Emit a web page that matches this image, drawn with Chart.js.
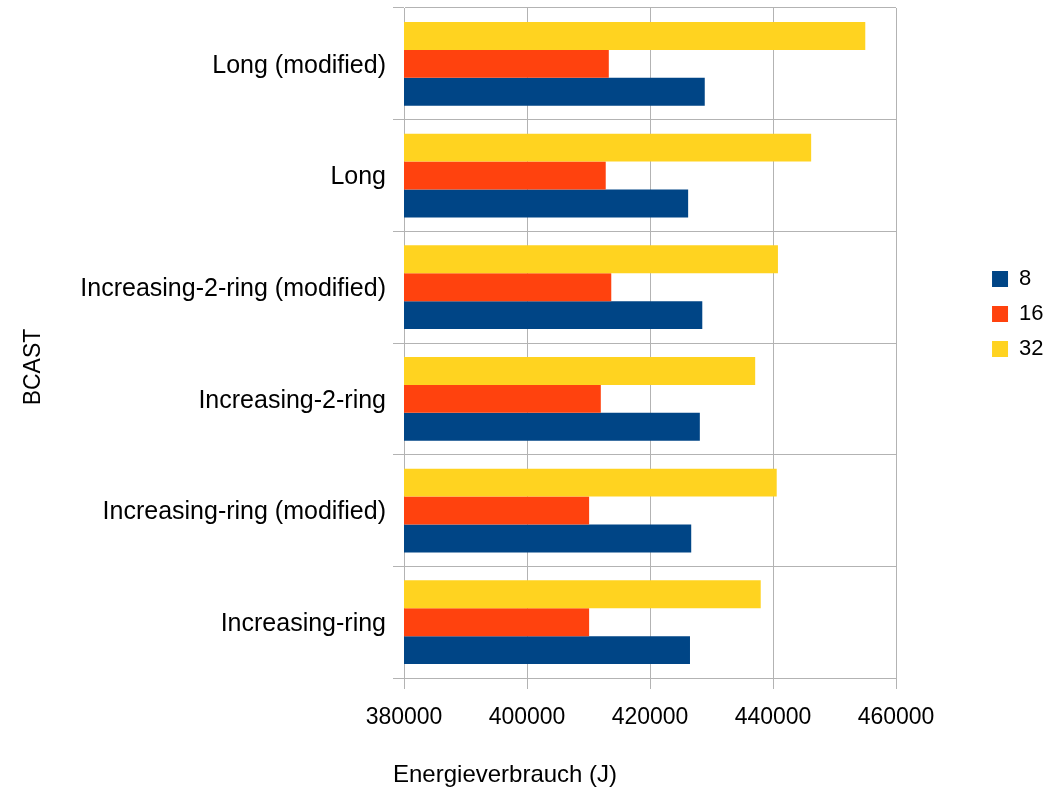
<!DOCTYPE html>
<html>
<head>
<meta charset="utf-8">
<title>BCAST – Energieverbrauch</title>
<script src="https://cdn.jsdelivr.net/npm/chart.js@4.4.1/dist/chart.umd.min.js"></script>
<style>
  html, body { margin: 0; padding: 0; background: #ffffff; }
  canvas { display: block; }
</style>
</head>
<body>
<canvas id="chart" width="1053" height="787"></canvas>
<script>
// Broadcast algorithms (top to bottom) and their energy use per process count
const categories = [
  'Long (modified)',
  'Long',
  'Increasing-2-ring (modified)',
  'Increasing-2-ring',
  'Increasing-ring (modified)',
  'Increasing-ring'
];
const values8  = [428900, 426200, 428500, 428100, 426700, 426500];
const values16 = [413300, 412800, 413700, 412000, 410100, 410100];
const values32 = [455000, 446200, 440800, 437100, 440600, 438000];
const seriesNames = ['8', '16', '32'];
const xTickValues = [380000, 400000, 420000, 440000, 460000];
const xAxisTitle = 'Energieverbrauch (J)';
const yAxisTitle = 'BCAST';

const FONT = '"Liberation Sans", Arial, Helvetica, sans-serif';
const GRID = '#b3b3b3';
const TEXT = '#000000';

// Axis titles placed the way the office chart lays them out
const axisTitles = {
  id: 'axisTitles',
  afterDraw(chart) {
    const { ctx, chartArea: ca } = chart;
    ctx.save();
    ctx.fillStyle = TEXT;
    ctx.textBaseline = 'alphabetic';
    ctx.textAlign = 'left';
    ctx.font = '24px ' + FONT;
    ctx.fillText(xAxisTitle, ca.left - 11, ca.bottom + 104);
    ctx.translate(40, (ca.top + ca.bottom) / 2 + 24);
    ctx.rotate(-Math.PI / 2);
    ctx.textAlign = 'center';
    ctx.font = '23px ' + FONT;
    ctx.fillText(yAxisTitle, 0, 0);
    ctx.restore();
  }
};

// Move the legend block to the right margin, slightly above centre
const legendPlacement = {
  id: 'legendPlacement',
  afterLayout(chart) {
    const lg = chart.legend;
    if (!lg) return;
    const w = lg.width;
    lg.left = chart.chartArea.right + 83;
    lg.right = lg.left + w;
    lg.top -= 29;
    lg.bottom -= 29;
  }
};

new Chart(document.getElementById('chart'), {
  type: 'bar',
  data: {
    labels: categories,
    datasets: [
      { label: seriesNames[2], data: values32, backgroundColor: '#ffd320' },
      { label: seriesNames[1], data: values16, backgroundColor: '#ff420e' },
      { label: seriesNames[0], data: values8,  backgroundColor: '#004586' }
    ]
  },
  options: {
    indexAxis: 'y',
    responsive: false,
    animation: false,
    devicePixelRatio: 1,
    events: [],
    datasets: {
      bar: { categoryPercentage: 0.75, barPercentage: 1.0, borderWidth: 0 }
    },
    layout: { padding: { top: 8, right: 82.5, bottom: 0, left: 0 } },
    scales: {
      x: {
        type: 'linear',
        min: xTickValues[0],
        max: xTickValues[xTickValues.length - 1],
        afterBuildTicks(scale) {
          scale.ticks = xTickValues.map(v => ({ value: v }));
        },
        afterFit(scale) { scale.height = 109; },
        ticks: {
          color: TEXT,
          font: { family: FONT, size: 23 },
          padding: 15,
          maxRotation: 0,
          callback: v => String(v)
        },
        grid: { color: GRID, lineWidth: 1, tickLength: 11, tickColor: GRID },
        border: { color: GRID, width: 1 }
      },
      y: {
        type: 'category',
        offset: true,
        afterFit(scale) {
          scale.width = 404;
          scale.paddingTop = 0;
          scale.paddingBottom = 0;
        },
        ticks: {
          color: TEXT,
          font: { family: FONT, size: 25 },
          padding: 7,
          labelOffset: 2
        },
        grid: { color: GRID, lineWidth: 1, tickLength: 11, tickColor: GRID, offset: true },
        border: { color: GRID, width: 1 }
      }
    },
    plugins: {
      tooltip: { enabled: false },
      title: { display: false },
      legend: {
        position: 'right',
        fullSize: false,
        reverse: true,
        labels: {
          color: TEXT,
          font: { family: FONT, size: 22 },
          boxWidth: 16,
          boxHeight: 16,
          padding: 13
        }
      }
    }
  },
  plugins: [axisTitles, legendPlacement]
});
</script>
</body>
</html>
